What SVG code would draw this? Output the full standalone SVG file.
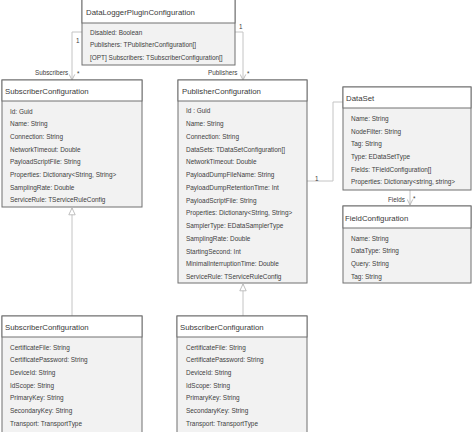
<svg xmlns="http://www.w3.org/2000/svg" width="474" height="432" viewBox="0 0 474 432">
<defs>
<style>
.box{fill:#f2f2f2;stroke:#707070;stroke-width:1}
.hd{fill:#ffffff;stroke:#707070;stroke-width:1}
.ht{font-family:"Liberation Sans",Arial,sans-serif;font-size:7.8px;fill:#3a3a3a;dominant-baseline:central}
.at{font-family:"Liberation Sans",Arial,sans-serif;font-size:6.45px;fill:#404040;dominant-baseline:central}
.lb{font-family:"Liberation Sans",Arial,sans-serif;font-size:6.3px;fill:#404040;dominant-baseline:central}
.cn{fill:none;stroke:#c4c4c4;stroke-width:1}
</style>
<marker id="open" viewBox="0 0 10 10" refX="9" refY="5" markerWidth="7" markerHeight="7" orient="auto" markerUnits="userSpaceOnUse">
<path d="M1,1 L9,5 L1,9" fill="none" stroke="#b0b0b0" stroke-width="1.2"/>
</marker>
<marker id="tri" viewBox="0 0 10 10" refX="9.5" refY="5" markerWidth="8" markerHeight="8" orient="auto" markerUnits="userSpaceOnUse">
<path d="M1,1 L9.5,5 L1,9 Z" fill="#ffffff" stroke="#b0b0b0" stroke-width="1"/>
</marker>
</defs>
<rect width="474" height="432" fill="#ffffff"/>

<g id="connectors">
<path class="cn" d="M82,32 H72 V80" marker-end="url(#open)"/>
<path class="cn" d="M235,32 H243 V80" marker-end="url(#open)"/>
<path class="cn" d="M307,181 H333 V102 H343"/>
<path class="cn" d="M410,190 V205" marker-end="url(#open)"/>
<path class="cn" d="M72,316 V208" marker-end="url(#tri)"/>
<path class="cn" d="M243,316 V284" marker-end="url(#tri)"/>
<text class="lb" x="76" y="40">1</text>
<text class="lb" x="35" y="72">Subscribers</text>
<text class="lb" x="77" y="73">*</text>
<text class="lb" x="239" y="26">1</text>
<text class="lb" x="208" y="72">Publishers</text>
<text class="lb" x="247" y="73">*</text>
<text class="lb" x="315" y="178">1</text>
<text class="lb" x="388" y="199">Fields</text>
<text class="lb" x="413" y="198">*</text>
</g>

<g id="DataLoggerPluginConfiguration">
<rect class="box" x="82" y="-1" width="153" height="66"/>
<rect class="hd" x="82" y="-1" width="153" height="24"/>
<text class="ht" x="86" y="12">DataLoggerPluginConfiguration</text>
<text class="at" x="90" y="32">Disabled: Boolean</text>
<text class="at" x="90" y="44.5">Publishers: TPublisherConfiguration[]</text>
<text class="at" x="90" y="57.5">[OPT] Subscribers: TSubscriberConfiguration[]</text>
</g>

<g id="SubscriberConfiguration">
<rect class="box" x="2" y="80" width="140" height="127"/>
<rect class="hd" x="2" y="80" width="140" height="21"/>
<text class="ht" x="5" y="91">SubscriberConfiguration</text>
<text class="at" x="10" y="111">Id: Guid</text>
<text class="at" x="10" y="123.7">Name: String</text>
<text class="at" x="10" y="136.4">Connection: String</text>
<text class="at" x="10" y="149.1">NetworkTimeout: Double</text>
<text class="at" x="10" y="161.8">PayloadScriptFile: String</text>
<text class="at" x="10" y="174.5">Properties: Dictionary&lt;String, String&gt;</text>
<text class="at" x="10" y="187.2">SamplingRate: Double</text>
<text class="at" x="10" y="199.9">ServiceRule: TServiceRuleConfig</text>
</g>

<g id="PublisherConfiguration">
<rect class="box" x="178" y="80" width="129" height="203"/>
<rect class="hd" x="178" y="80" width="129" height="21"/>
<text class="ht" x="182" y="91">PublisherConfiguration</text>
<text class="at" x="186" y="110.7">Id : Guid</text>
<text class="at" x="186" y="123.5">Name: String</text>
<text class="at" x="186" y="136.2">Connection: String</text>
<text class="at" x="186" y="149">DataSets: TDataSetConfiguration[]</text>
<text class="at" x="186" y="161.8">NetworkTimeout: Double</text>
<text class="at" x="186" y="174.5">PayloadDumpFileName: String</text>
<text class="at" x="186" y="187.3">PayloadDumpRetentionTime: Int</text>
<text class="at" x="186" y="200.1">PayloadScriptFile: String</text>
<text class="at" x="186" y="212.9">Properties: Dictionary&lt;String, String&gt;</text>
<text class="at" x="186" y="225.6">SamplerType: EDataSamplerType</text>
<text class="at" x="186" y="238.4">SamplingRate: Double</text>
<text class="at" x="186" y="251.2">StartingSecond: Int</text>
<text class="at" x="186" y="263.9">MinimalInterruptionTime: Double</text>
<text class="at" x="186" y="276.7">ServiceRule: TServiceRuleConfig</text>
</g>

<g id="DataSet">
<rect class="box" x="343" y="87" width="128" height="103"/>
<rect class="hd" x="343" y="87" width="128" height="21"/>
<text class="ht" x="346" y="98.5">DataSet</text>
<text class="at" x="351" y="118.5">Name: String</text>
<text class="at" x="351" y="131">NodeFilter: String</text>
<text class="at" x="351" y="143.5">Tag: String</text>
<text class="at" x="351" y="156.2">Type: EDataSetType</text>
<text class="at" x="351" y="169">Fields: TFieldConfiguration[]</text>
<text class="at" x="351" y="181.8">Properties: Dictionary&lt;string, string&gt;</text>
</g>

<g id="FieldConfiguration">
<rect class="box" x="343" y="206" width="128" height="77"/>
<rect class="hd" x="343" y="206" width="128" height="22"/>
<text class="ht" x="345" y="218">FieldConfiguration</text>
<text class="at" x="351" y="238">Name: String</text>
<text class="at" x="351" y="250.8">DataType: String</text>
<text class="at" x="351" y="263.5">Query: String</text>
<text class="at" x="351" y="276.2">Tag: String</text>
</g>

<g id="SubscriberConfiguration2">
<rect class="box" x="2" y="316" width="140" height="120"/>
<rect class="hd" x="2" y="316" width="140" height="21"/>
<text class="ht" x="5" y="327">SubscriberConfiguration</text>
<text class="at" x="10" y="347">CertificateFile: String</text>
<text class="at" x="10" y="359.7">CertificatePassword: String</text>
<text class="at" x="10" y="372.4">DeviceId: String</text>
<text class="at" x="10" y="385.1">IdScope: String</text>
<text class="at" x="10" y="397.8">PrimaryKey: String</text>
<text class="at" x="10" y="410.5">SecondaryKey: String</text>
<text class="at" x="10" y="423.2">Transport: TransportType</text>
</g>

<g id="SubscriberConfiguration3">
<rect class="box" x="177" y="316" width="130" height="120"/>
<rect class="hd" x="177" y="316" width="130" height="21"/>
<text class="ht" x="180" y="327">SubscriberConfiguration</text>
<text class="at" x="186" y="347">CertificateFile: String</text>
<text class="at" x="186" y="359.7">CertificatePassword: String</text>
<text class="at" x="186" y="372.4">DeviceId: String</text>
<text class="at" x="186" y="385.1">IdScope: String</text>
<text class="at" x="186" y="397.8">PrimaryKey: String</text>
<text class="at" x="186" y="410.5">SecondaryKey: String</text>
<text class="at" x="186" y="423.2">Transport: TransportType</text>
</g>
</svg>
